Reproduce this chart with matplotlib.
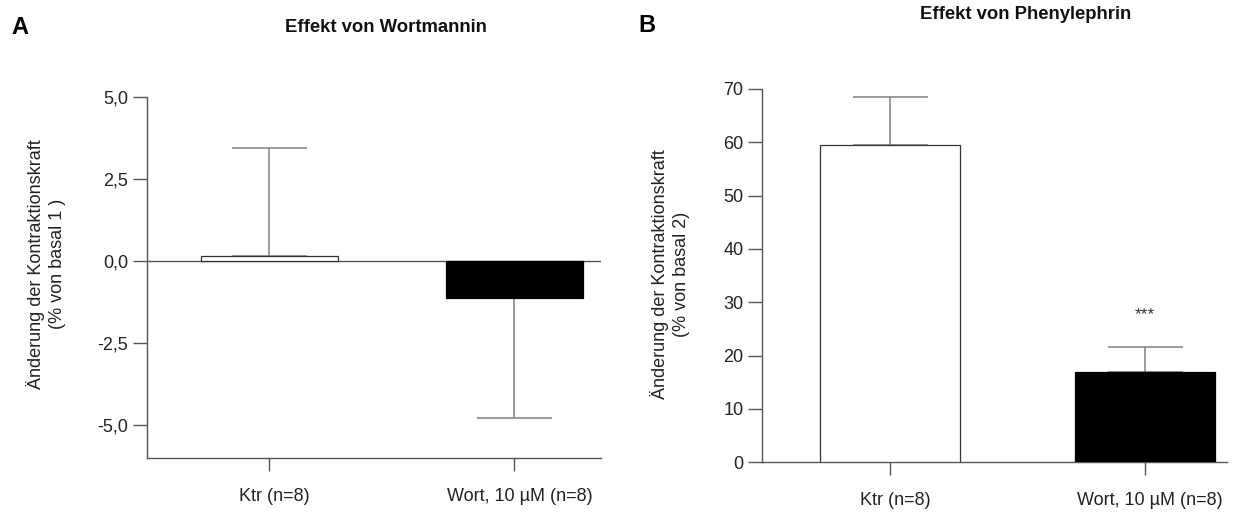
import matplotlib
matplotlib.use("Agg")
import matplotlib.pyplot as plt
import matplotlib.transforms as mtransforms
import numpy as np

plt.rcParams['font.family'] = ['Liberation Sans', 'DejaVu Sans']

# ---- data ----
categories = ["Ktr (n=8)", "Wort, 10 µM (n=8)"]
a_means = [0.15, -1.14]
a_sem = [3.28, 3.65]
a_yticks = [-5.0, -2.5, 0.0, 2.5, 5.0]
a_yticklabels = ["-5,0", "-2,5", "0,0", "2,5", "5,0"]

b_means = [59.5, 17.0]
b_sem = [9.0, 4.7]
b_yticks = [0, 10, 20, 30, 40, 50, 60, 70]
b_yticklabels = ["0", "10", "20", "30", "40", "50", "60", "70"]
b_signif = ["", "***"]

titles = ["Effekt von Wortmannin", "Effekt von Phenylephrin"]
ylabels = ["Änderung der Kontraktionskraft\n(% von basal 1 )",
           "Änderung der Kontraktionskraft\n(% von basal 2)"]
bar_colors = ["white", "black"]
bar_edges = ["#333333", "black"]

W, H = 1236, 513
fig = plt.figure(figsize=(W / 100, H / 100), dpi=100)

def fx(px):
    return px / W

def fy(py):
    return 1 - py / H

axis_col = "#555555"
err_col = "#808080"
FS = 13

def style(ax, ylim, xlim, yticks, yticklabels):
    ax.set_xlim(*xlim)
    ax.set_ylim(*ylim)
    for s in ["top", "right"]:
        ax.spines[s].set_visible(False)
    for s in ["left", "bottom"]:
        ax.spines[s].set_color(axis_col)
        ax.spines[s].set_linewidth(1.0)
    ax.set_yticks(yticks)
    ax.set_yticklabels(yticklabels)
    ax.set_xticks(range(len(categories)))
    ax.set_xticklabels(categories)
    ax.tick_params(axis="y", direction="out", length=10, width=1.0,
                   color=axis_col, labelsize=FS, pad=3.5, labelcolor="#222222")
    ax.tick_params(axis="x", direction="out", length=9.5, width=1.0,
                   color=axis_col, labelsize=FS, pad=12, labelcolor="#222222")
    offset = mtransforms.ScaledTranslation(5 / 100, 0, fig.dpi_scale_trans)
    for lab in ax.get_xticklabels():
        lab.set_transform(lab.get_transform() + offset)

def draw_bars(ax, means, sem, width):
    x = np.arange(len(means))
    ax.bar(x, means, width=width, color=bar_colors, edgecolor=bar_edges,
           linewidth=0.9, zorder=3)
    means = np.array(means)
    sem = np.array(sem)
    lower = np.where(means < 0, sem, 0)
    upper = np.where(means >= 0, sem, 0)
    ax.errorbar(x, means, yerr=[lower, upper], fmt="none", ecolor=err_col,
                elinewidth=1.1, capsize=27, capthick=1.1, zorder=2)

# Panel A
axA = fig.add_axes([fx(146.7), fy(457.7), fx(601 - 146.7), (457.7 - 96.7) / H])
style(axA, (-6, 5), (-0.5, 1.353), a_yticks, a_yticklabels)
axA.axhline(0, color=axis_col, linewidth=1.0, zorder=1)
draw_bars(axA, a_means, a_sem, 0.56)

# Panel B
axB = fig.add_axes([fx(762.3), fy(462.3), fx(1226.7 - 762.3), (462.3 - 89) / H])
style(axB, (0, 70), (-0.5, 1.32), b_yticks, b_yticklabels)
draw_bars(axB, b_means, b_sem, 0.55)
for i, s in enumerate(b_signif):
    if s:
        axB.text(i, b_means[i] + b_sem[i] + 6.0, s, ha="center", va="center",
                 fontsize=12.5, color="#333333")

# Titles / labels
fig.text(fx(386), fy(28), titles[0], ha="center", va="center",
         fontsize=FS + 0.3, fontweight="bold", color="#111111")
fig.text(fx(1026), fy(15), titles[1], ha="center", va="center",
         fontsize=FS + 0.3, fontweight="bold", color="#111111")
fig.text(fx(20), fy(28), "A", ha="center", va="center", fontsize=17,
         fontweight="bold", color="black")
fig.text(fx(647), fy(26), "B", ha="center", va="center", fontsize=17,
         fontweight="bold", color="black")
fig.text(fx(46), fy(264), ylabels[0], ha="center", va="center", rotation=90,
         fontsize=FS, linespacing=1.3, color="#222222", multialignment="center")
fig.text(fx(670), fy(274), ylabels[1], ha="center", va="center", rotation=90,
         fontsize=FS, linespacing=1.3, color="#222222", multialignment="center")

fig.savefig("out.png", dpi=100, facecolor="white")
